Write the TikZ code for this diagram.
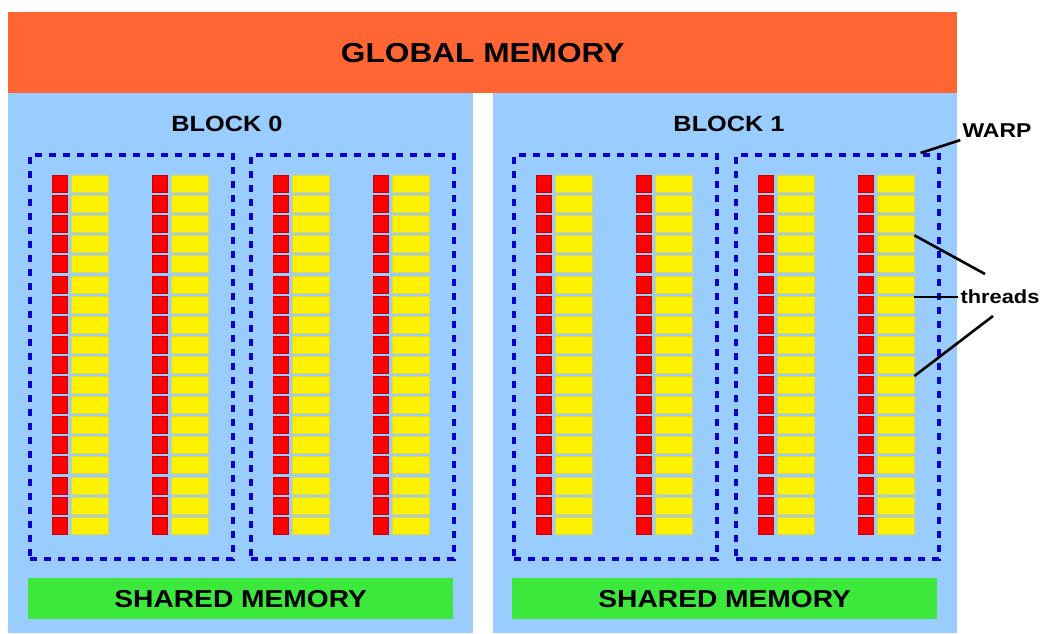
\documentclass[tikz,border=0pt]{standalone}
\usepackage{fontspec}
\setmainfont{Liberation Sans}
\newfontfamily\gpufont{Liberation Sans}[FakeStretch=1.15]
\usetikzlibrary{positioning}

\definecolor{gmemorange}{HTML}{FF6633}
\definecolor{blockblue}{HTML}{99CCFF}
\definecolor{warpblue}{HTML}{0C00CC}
\definecolor{smemgreen}{HTML}{3CE83C}

\begin{document}
\begin{tikzpicture}[x=1pt, y=-1pt,
    font=\gpufont\bfseries,
    box/.style={inner sep=0pt, anchor=north west},
    gmem/.style={box, fill=gmemorange, font=\gpufont\bfseries\fontsize{27.5}{30}\selectfont},
    block/.style={box, fill=blockblue},
    smem/.style={box, fill=smemgreen, font=\gpufont\bfseries\fontsize{24.5}{28}\selectfont},
    warpbox/.style={box, draw=warpblue, line width=3.5pt, dash pattern=on 7pt off 7pt},
    treg/.style={box, fill=red, draw=red!80!black, line width=0.4pt, minimum width=15pt, minimum height=17pt},
    tcell/.style={box, fill=yellow, draw=yellow!75!gray, line width=0.4pt, minimum width=37pt, minimum height=17pt},
    tag/.style={inner sep=2pt},
    pointer/.style={draw=black, line width=2.6pt},
  ]
  \useasboundingbox (0,0) rectangle (1044,633);

  % memory and blocks
  \node[gmem, minimum width=949pt, minimum height=81pt] (gmem) at (8,12) {GLOBAL MEMORY};
  \node[block, minimum width=465pt, minimum height=540pt] (block0) at (8,93) {};
  \node[block, minimum width=464pt, minimum height=540pt] (block1) at (493,93) {};
  \node[font=\gpufont\bfseries\fontsize{22}{26}\selectfont] (blk0) at (227,124) {BLOCK 0};
  \node[font=\gpufont\bfseries\fontsize{22}{26}\selectfont] (blk1) at (729,124) {BLOCK 1};
  \node[smem, minimum width=425pt, minimum height=41pt] (smem0) at (28,578) {SHARED MEMORY};
  \node[smem, minimum width=425pt, minimum height=41pt] (smem1) at (512,578) {SHARED MEMORY};

  % warps with two columns of threads
  \foreach \w/\wx in {0/28, 1/249, 2/512, 3/734} {
    \node[warpbox, minimum width=203pt, minimum height=404pt] (warp\w) at (\wx,153) {};
    \foreach \c in {0,1} {
      \foreach \r in {0,...,17} {
        \node[treg] (r\w-\c-\r) at (\wx+24+100*\c, 175+20.1*\r) {};
        \node[tcell] (y\w-\c-\r) at (\wx+43+100*\c, 175+20.1*\r) {};
      }
    }
  }

  % labels
  \node[tag, font=\gpufont\bfseries\fontsize{20}{24}\selectfont] (warptag) at (997,131) {WARP};
  \node[tag, font=\gpufont\bfseries\fontsize{19}{23}\selectfont] (thrtag) at (1000,297) {threads};
  \coordinate (thr-up) at (985,274);
  \coordinate (thr-dn) at (993,316);
  \draw[pointer] ([xshift=-20pt]warp3.north east) -- (warptag.south west);
  \draw[pointer] (y3-1-3.north east) -- (thr-up);
  \draw[pointer] (y3-1-6.north east |- thrtag.west) -- (thrtag.west);
  \draw[pointer] (y3-1-10.north east) -- (thr-dn);
\end{tikzpicture}
\end{document}
